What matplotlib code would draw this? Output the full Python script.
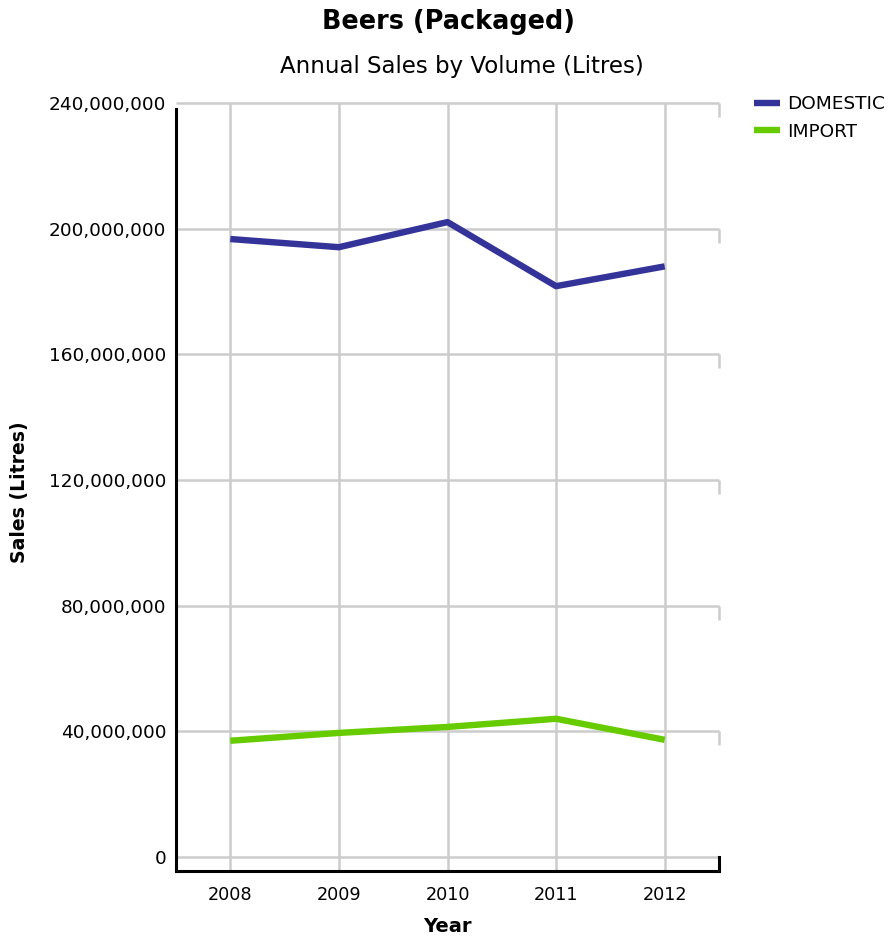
import matplotlib
matplotlib.use("Agg")
import matplotlib.pyplot as plt
from matplotlib.ticker import FuncFormatter

# data
years = [2008, 2009, 2010, 2011, 2012]
domestic = [196.7e6, 194.1e6, 202.1e6, 181.7e6, 188.0e6]
imports = [37.0e6, 39.5e6, 41.4e6, 44.0e6, 37.3e6]
yticks = [0, 40e6, 80e6, 120e6, 160e6, 200e6, 240e6]

W, H = 892, 938
fig = plt.figure(figsize=(W / 100, H / 100), dpi=100)

# axes box in pixels: left 176, right 719, top 103, bottom 871
L, R, T, B = 176, 719, 103, 871
ax = fig.add_axes([L / W, 1 - B / H, (R - L) / W, (B - T) / H])

ymax = 240e6
y_bottom = -(B - 857) / (857 - T) * ymax
ax.set_xlim(2007.5, 2012.5)
ax.set_ylim(y_bottom, ymax)

grid_col = "#cccccc"
for y in yticks:
    ax.plot([2007.5, 2012.5], [y, y], color=grid_col, lw=1.8, zorder=1,
            clip_on=False, solid_capstyle="butt")
    # small depth tick at the right end
    ax.plot([2012.5, 2012.5], [y, y - 14 / 754 * ymax], color=grid_col,
            lw=1.8, zorder=1, clip_on=False, solid_capstyle="butt")
for x in years:
    ax.axvline(x, color=grid_col, lw=1.8, zorder=1)

ax.plot(years, domestic, color="#333399", lw=4.6, label="DOMESTIC", zorder=3,
        solid_capstyle="butt")
ax.plot(years, imports, color="#66cc00", lw=4.6, label="IMPORT", zorder=3,
        solid_capstyle="butt")

for s in ax.spines.values():
    s.set_visible(False)
# black axis lines
ax.plot([2007.5, 2012.5], [y_bottom, y_bottom], color="black", lw=2.2,
        clip_on=False, zorder=4, solid_capstyle="projecting")
ax.plot([2007.5, 2007.5], [y_bottom, ymax - 6 / 754 * ymax], color="black",
        lw=2.2, clip_on=False, zorder=4)
ax.plot([2012.5, 2012.5], [y_bottom, 0], color="black", lw=2.2,
        clip_on=False, zorder=4)

ax.set_xticks(years)
ax.set_yticks(yticks)
ax.yaxis.set_major_formatter(FuncFormatter(lambda v, p: "{:,.0f}".format(v)))
ax.tick_params(axis="both", length=0, colors="black")
ax.tick_params(axis="y", pad=7, labelsize=13.3)
ax.tick_params(axis="x", pad=11, labelsize=12.7)

ax.set_xlabel("Year", fontsize=14, fontweight="bold", labelpad=9)
ax.set_ylabel("Sales (Litres)", fontsize=13.6, fontweight="bold")
ax.yaxis.set_label_coords(-(L - 29) / (R - L), (B - 492) / (B - T))

fig.text(448 / W, 1 - 22 / H, "Beers (Packaged)", fontsize=18.4,
         fontweight="bold", ha="center", va="center")
fig.text(462 / W, 1 - 66 / H, "Annual Sales by Volume (Litres)",
         fontsize=16.5, ha="center", va="center")

fig.legend(loc="upper left", bbox_to_anchor=(747 / W, 1 - 88 / H),
           frameon=False, fontsize=13.3, handlelength=1.4, handletextpad=0.35,
           labelspacing=0.5, borderaxespad=0)

fig.savefig("out.png", dpi=100)
